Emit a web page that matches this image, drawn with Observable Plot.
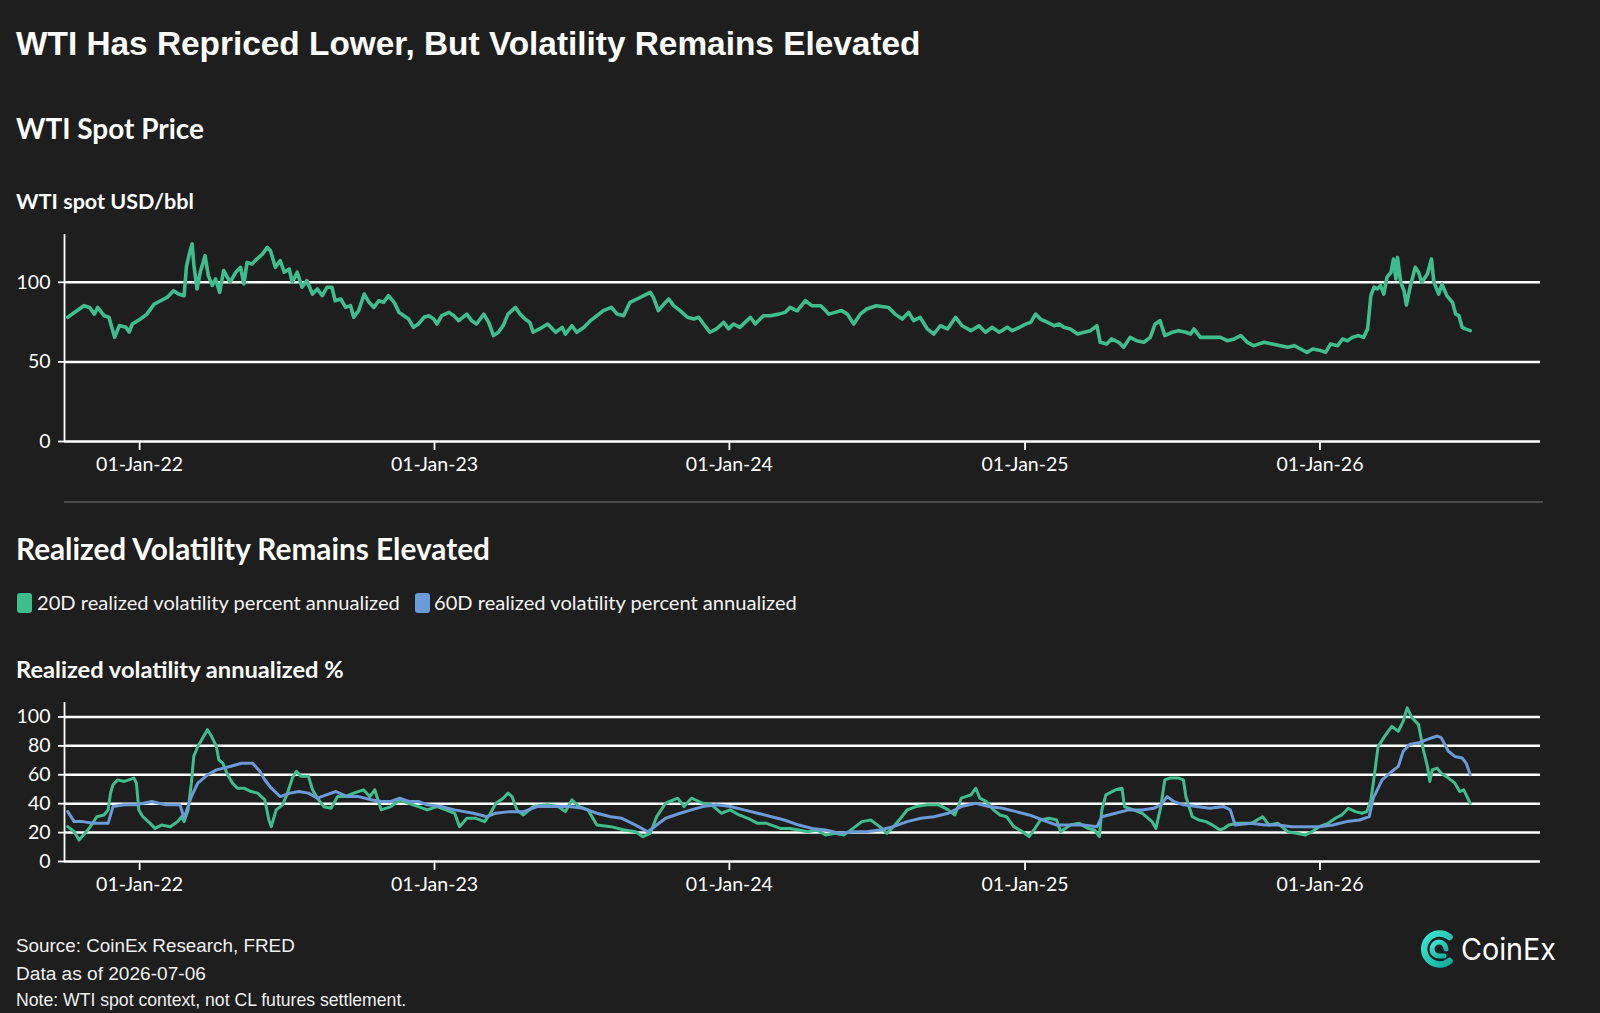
<!DOCTYPE html>
<html><head><meta charset="utf-8">
<script src="https://cdn.jsdelivr.net/npm/d3@7"></script>
<script src="https://cdn.jsdelivr.net/npm/@observablehq/plot@0.6"></script>
<style>
html,body{margin:0;padding:0;background:#1e1e1e;}
#page{position:relative;width:1600px;height:1013px;background:#1e1e1e;overflow:hidden;color:#fff;}
.t{position:absolute;white-space:nowrap;line-height:1;margin:0;}
.h{font-family:Lato,sans-serif;font-weight:700;color:#fff;}
.r{font-family:Lato,sans-serif;font-weight:400;color:#f2f2f2;}
.a{font-family:"Liberation Sans",Arial,sans-serif;color:#f0f0f0;}
.sw{position:absolute;width:15px;height:20px;border-radius:3px;}
.chart{position:absolute;left:0;}
</style></head>
<body><div id="page">
<div id="title" class="t a" style="font-weight:700;color:#fff">WTI Has Repriced Lower, But Volatility Remains Elevated</div>
<div id="h1" class="t h">WTI Spot Price</div>
<div id="yl1" class="t h">WTI spot USD/bbl</div>
<div id="c1" class="chart" style="top:230px"></div>
<div style="position:absolute;left:64px;top:501px;width:1479px;height:1.5px;background:#4a4a4a"></div>
<div id="h2" class="t h">Realized Volatility Remains Elevated</div>
<div id="sw1" class="sw" style="left:17px;top:593px"></div>
<div id="lg1" class="t r">20D realized volatility percent annualized</div>
<div id="sw2" class="sw" style="left:414.5px;top:593px"></div>
<div id="lg2" class="t r">60D realized volatility percent annualized</div>
<div id="yl2" class="t h">Realized volatility annualized %</div>
<div id="c2" class="chart" style="top:698px"></div>
<div id="f1" class="t a">Source: CoinEx Research, FRED</div>
<div id="f2" class="t a">Data as of 2026-07-06</div>
<div id="f3" class="t a">Note: WTI spot context, not CL futures settlement.</div>
<svg style="position:absolute;left:1421px;top:929px" width="140" height="42" viewBox="0 0 140 42">
  <defs><linearGradient id="lgc" x1="0" y1="0" x2="1" y2="1"><stop offset="0" stop-color="#3fe6d4"/><stop offset="1" stop-color="#10ae9f"/></linearGradient></defs>
  <path d="M28.5 8 A15.5 15.5 0 1 0 28.5 32" fill="none" stroke="url(#lgc)" stroke-width="6.5" stroke-linecap="round"/>
  <path d="M25 20 A7 7 0 1 0 19 27 L23 27" fill="none" stroke="url(#lgc)" stroke-width="5" stroke-linecap="round"/>
  <text x="40" y="31" fill="#fff" font-family="Inter, Roboto, sans-serif" font-weight="400" font-size="30" textLength="95" lengthAdjust="spacingAndGlyphs">CoinEx</text>
</svg>
</div>
<script>
const GREEN = "#3ebe8c", BLUE = "#6a9ad8";

const yearTicks = ["2022-01-01","2023-01-01","2024-01-01","2025-01-01","2026-01-01"];
const priceTicks = [0, 50, 100];
const volTicks = [0, 20, 40, 60, 80, 100];

const priceDates = [
"2021-10-04","2021-10-24","2021-10-31","2021-11-06","2021-11-10","2021-11-18","2021-11-24","2021-12-01","2021-12-07","2021-12-15","2021-12-19","2021-12-23",
"2022-01-02","2022-01-10","2022-01-19","2022-01-27","2022-02-04","2022-02-12","2022-02-18","2022-02-25","2022-02-28","2022-03-04","2022-03-07","2022-03-09",
"2022-03-13","2022-03-17","2022-03-23","2022-03-27","2022-04-01","2022-04-05","2022-04-10","2022-04-15","2022-04-23","2022-04-30","2022-05-06","2022-05-10",
"2022-05-14","2022-05-20","2022-05-26","2022-06-02","2022-06-08","2022-06-12","2022-06-18","2022-06-24","2022-06-29","2022-07-05","2022-07-09","2022-07-15",
"2022-07-21","2022-07-27","2022-08-03","2022-08-09","2022-08-15","2022-08-21","2022-08-27","2022-08-31","2022-09-07","2022-09-13","2022-09-19","2022-09-23",
"2022-09-29","2022-10-06","2022-10-12","2022-10-18","2022-10-24","2022-10-30","2022-11-05","2022-11-12","2022-11-18","2022-11-24","2022-11-30","2022-12-06",
"2022-12-12","2022-12-19","2022-12-25","2022-12-31","2023-01-04","2023-01-10","2023-01-19","2023-01-25","2023-01-31","2023-02-10","2023-02-16","2023-02-22",
"2023-03-03","2023-03-09","2023-03-15","2023-03-21","2023-03-27","2023-04-02","2023-04-11","2023-04-17","2023-04-23","2023-04-29","2023-05-03","2023-05-11",
"2023-05-21","2023-05-31","2023-06-08","2023-06-12","2023-06-20","2023-06-26","2023-07-05","2023-07-13","2023-07-21","2023-07-29","2023-08-08","2023-08-15",
"2023-08-23","2023-08-31","2023-09-09","2023-09-17","2023-09-25","2023-09-29","2023-10-05","2023-10-12","2023-10-18","2023-10-24","2023-11-01","2023-11-10",
"2023-11-18","2023-11-24","2023-11-30","2023-12-08","2023-12-16","2023-12-25","2023-12-31","2024-01-06","2024-01-14","2024-01-27","2024-02-02","2024-02-12",
"2024-02-21","2024-03-02","2024-03-10","2024-03-16","2024-03-25","2024-04-04","2024-04-12","2024-04-23","2024-04-29","2024-05-03","2024-05-11","2024-05-19",
"2024-05-26","2024-06-03","2024-06-11","2024-06-19","2024-07-01","2024-07-16","2024-07-24","2024-08-02","2024-08-10","2024-08-16","2024-08-24","2024-09-02",
"2024-09-10","2024-09-18","2024-09-27","2024-10-07","2024-10-15","2024-10-26","2024-11-05","2024-11-13","2024-11-21","2024-11-30",
"2024-12-10","2024-12-16","2024-12-25","2025-01-02","2025-01-08","2025-01-14","2025-01-20","2025-01-29","2025-02-06","2025-02-12","2025-02-18","2025-02-26",
"2025-03-07","2025-03-15","2025-03-23","2025-03-31","2025-04-04","2025-04-12","2025-04-18","2025-04-27","2025-05-03","2025-05-11","2025-05-19","2025-05-28",
"2025-06-05","2025-06-11","2025-06-17","2025-06-23","2025-07-02","2025-07-10","2025-07-19","2025-07-25","2025-07-29","2025-08-06","2025-08-19","2025-08-31",
"2025-09-08","2025-09-17","2025-09-25","2025-10-03","2025-10-11","2025-10-24","2025-11-03","2025-11-13","2025-11-22","2025-11-30","2025-12-08","2025-12-16",
"2025-12-23","2026-01-02","2026-01-08","2026-01-14","2026-01-23","2026-01-29","2026-02-04","2026-02-10","2026-02-18","2026-02-24","2026-03-01","2026-03-05",
"2026-03-09","2026-03-13","2026-03-17","2026-03-21","2026-03-25","2026-03-30","2026-04-02","2026-04-05","2026-04-07","2026-04-11","2026-04-15","2026-04-18",
"2026-04-23","2026-04-29","2026-05-03","2026-05-07","2026-05-14","2026-05-19","2026-05-22","2026-05-28","2026-06-01","2026-06-07","2026-06-14","2026-06-18",
"2026-06-22","2026-06-26","2026-06-30","2026-07-06"];
const priceValues = [
78.0,85.3,84.2,80.0,84.2,79.0,78.0,65.4,72.8,71.8,68.8,73.8,
76.9,80.0,86.3,88.4,90.5,94.7,92.6,91.6,110.0,118.8,124.0,111.4,
95.8,106.3,116.7,104.2,98.0,102.1,93.7,107.4,100.0,106.3,109.4,98.9,
112.5,111.5,114.6,117.7,121.9,119.8,109.4,113.6,106.3,108.4,100.0,106.3,
96.9,101.0,92.6,95.8,91.6,96.9,96.9,88.4,89.5,84.2,85.3,78.0,
82.1,92.6,87.4,84.2,88.4,87.4,91.6,87.4,81.1,79.0,76.9,71.7,
73.8,78.0,79.0,76.9,73.8,79.0,81.1,79.0,75.9,80.0,75.9,73.8,
80.0,74.8,66.5,68.6,72.8,80.0,84.2,80.0,76.9,74.8,68.6,70.7,
73.8,68.6,71.7,67.5,72.7,68.6,71.7,75.9,79.0,82.2,84.2,80.0,
79.0,87.4,89.5,91.6,93.7,90.5,82.2,86.3,89.5,85.3,82.2,78.0,
76.9,78.0,73.8,68.6,70.7,74.8,70.7,73.8,71.7,78.0,73.8,79.0,
79.0,80.0,81.1,84.2,82.1,88.4,85.3,85.3,82.2,80.0,81.1,82.2,
80.0,73.8,80.0,83.2,85.3,84.2,80.0,76.9,81.1,75.9,78.0,70.7,
67.5,72.7,70.7,78.0,72.7,69.6,72.7,68.6,71.7,68.6,
71.7,69.6,71.7,73.8,74.8,80.0,76.9,74.8,72.7,73.8,71.7,70.7,
67.5,68.6,69.6,72.7,62.3,61.2,64.4,62.3,59.2,65.4,63.3,62.3,
65.4,73.8,75.9,66.5,68.6,69.6,68.6,67.5,70.7,65.4,65.4,65.4,
63.3,64.4,66.5,62.3,60.2,62.3,61.2,60.2,59.2,60.2,58.1,56.0,
58.1,57.1,56.0,61.2,60.2,64.4,63.3,65.4,66.5,65.4,70.7,91.6,
96.9,95.8,97.9,92.6,103.2,106.3,114.6,102.1,115.6,100.0,94.7,85.7,
97.9,109.4,106.3,100.0,105.2,114.6,100.0,92.6,98.9,91.6,87.4,80.0,
79.0,71.7,70.7,69.6];

const vol20Dates = [
"2021-10-04","2021-10-12","2021-10-18","2021-10-27","2021-11-01","2021-11-09","2021-11-18","2021-11-23","2021-11-26","2021-11-29","2021-12-05","2021-12-13",
"2021-12-25","2021-12-28","2021-12-31","2022-01-05","2022-01-14","2022-01-20","2022-01-28","2022-02-08","2022-02-17","2022-02-22","2022-02-25","2022-03-02",
"2022-03-06","2022-03-09","2022-03-14","2022-03-20","2022-03-26","2022-03-31","2022-04-06","2022-04-09","2022-04-14","2022-04-20","2022-04-26","2022-05-02",
"2022-05-10","2022-05-19","2022-05-27","2022-06-05","2022-06-10","2022-06-13","2022-06-19","2022-06-27","2022-07-03","2022-07-09","2022-07-14","2022-07-20",
"2022-07-29","2022-08-03","2022-08-09","2022-08-17","2022-08-26","2022-09-03","2022-09-12","2022-09-23","2022-10-05","2022-10-13","2022-10-19","2022-10-27",
"2022-11-08","2022-11-19","2022-11-30","2022-12-12","2022-12-23","2023-01-04","2023-01-15","2023-01-26","2023-02-01","2023-02-10","2023-02-21","2023-03-04",
"2023-03-10","2023-03-18","2023-03-27","2023-04-02","2023-04-07","2023-04-13","2023-04-21","2023-05-03","2023-05-20","2023-06-03","2023-06-12","2023-06-20",
"2023-06-29","2023-07-10","2023-07-21","2023-08-07","2023-08-24","2023-09-07","2023-09-16","2023-09-25","2023-10-03","2023-10-14","2023-10-29","2023-11-06",
"2023-11-15","2023-11-29","2023-12-10","2023-12-22","2024-01-02","2024-01-13","2024-01-24","2024-02-05","2024-02-16","2024-03-04","2024-03-16","2024-03-27",
"2024-04-07","2024-04-18","2024-04-29","2024-05-11","2024-05-22","2024-06-02","2024-06-13","2024-06-24","2024-07-05","2024-07-14","2024-07-22","2024-07-31",
"2024-08-08","2024-08-19","2024-09-02","2024-09-16","2024-09-28","2024-10-06","2024-10-14","2024-10-26","2024-11-01","2024-11-06","2024-11-14","2024-11-23",
"2024-12-01","2024-12-09","2024-12-18","2024-12-29","2025-01-06","2025-01-12","2025-01-20","2025-01-31","2025-02-09","2025-02-14","2025-02-26","2025-03-09",
"2025-03-20","2025-03-28","2025-04-03","2025-04-06","2025-04-11","2025-04-23","2025-05-01","2025-05-04","2025-05-15","2025-05-26","2025-06-07","2025-06-12",
"2025-06-18","2025-06-23","2025-06-29","2025-07-10","2025-07-16","2025-07-19","2025-07-27","2025-08-04","2025-08-13","2025-08-21","2025-08-30","2025-09-04",
"2025-09-10","2025-09-21","2025-10-08","2025-10-22","2025-10-30","2025-11-10","2025-11-22","2025-12-03","2025-12-14","2025-12-22","2025-12-31","2026-01-11",
"2026-01-20","2026-01-28","2026-02-05","2026-02-14","2026-02-22","2026-02-28","2026-03-05","2026-03-08","2026-03-14","2026-03-22","2026-03-31","2026-04-08",
"2026-04-14","2026-04-19","2026-04-25","2026-05-03","2026-05-09","2026-05-14","2026-05-17","2026-05-20","2026-05-26","2026-05-31","2026-06-09","2026-06-17",
"2026-06-23","2026-06-28","2026-07-06"];
const vol20Values = [
24.1,20.6,14.8,20.6,24.1,31.0,32.2,35.7,47.3,53.1,56.5,55.4,
57.7,54.2,35.7,31.0,26.4,22.9,25.2,24.1,27.6,31.0,27.6,35.7,
54.2,72.7,79.6,85.4,91.2,86.6,79.6,70.4,68.0,59.9,54.2,50.7,
50.7,48.4,47.3,42.6,28.7,24.1,35.7,39.2,47.3,57.7,62.4,58.9,
58.9,49.6,43.8,37.9,36.8,44.9,44.9,47.3,49.6,44.9,49.6,35.7,
38.0,42.6,40.3,38.0,35.7,38.0,35.7,33.4,24.1,29.9,29.9,27.6,
32.2,40.3,43.8,47.3,44.9,35.7,32.2,38.0,39.2,38.0,34.5,42.6,
38.0,35.7,25.2,24.1,21.8,20.6,17.2,19.5,31.0,40.3,43.8,38.0,
43.8,40.3,39.2,33.4,35.7,32.2,29.9,26.4,26.4,22.9,22.9,21.8,
20.6,21.8,18.4,19.5,18.4,22.9,27.6,28.7,24.1,19.5,24.1,29.9,
35.7,38.0,39.2,39.2,35.7,32.2,43.8,46.1,50.7,43.8,41.5,35.7,
32.2,31.0,24.1,20.6,17.2,21.8,28.7,29.9,28.7,20.6,25.2,26.4,
22.9,21.8,17.2,35.7,46.1,49.6,50.7,38.0,35.7,33.4,27.6,22.9,
38.0,56.5,57.7,57.7,56.5,45.0,31.0,28.7,27.6,25.2,21.8,22.9,
25.2,26.4,26.4,31.0,25.2,26.4,20.6,19.5,18.4,20.6,24.1,26.4,
29.9,32.2,36.8,34.5,33.4,34.5,42.6,54.2,79.6,86.6,93.5,90.1,
97.0,106.3,99.4,94.7,77.3,65.8,55.4,63.4,64.6,61.1,57.7,54.2,
48.4,49.6,40.3];

const vol60Dates = [
"2021-10-04","2021-10-12","2021-10-23","2021-11-04","2021-11-15","2021-11-23","2021-11-29","2021-12-13","2021-12-28","2022-01-16","2022-02-02","2022-02-20",
"2022-02-25","2022-03-06","2022-03-14","2022-03-26","2022-04-06","2022-04-23","2022-05-07","2022-05-21","2022-05-30","2022-06-05","2022-06-13","2022-06-24",
"2022-07-06","2022-07-17","2022-07-29","2022-08-09","2022-08-20","2022-09-01","2022-09-15","2022-09-29","2022-10-16","2022-10-27","2022-11-08","2022-11-19",
"2022-11-30","2022-12-12","2022-12-23","2023-01-09","2023-01-26","2023-02-18","2023-03-07","2023-03-18","2023-04-04","2023-04-21","2023-05-08","2023-05-31",
"2023-06-17","2023-07-04","2023-07-21","2023-08-07","2023-08-21","2023-09-07","2023-09-22","2023-10-03","2023-10-14","2023-11-01","2023-11-15","2023-11-29",
"2023-12-16","2024-01-02","2024-01-19","2024-02-05","2024-02-22","2024-03-09","2024-03-27","2024-04-12","2024-04-29","2024-05-16","2024-06-02","2024-06-19",
"2024-07-05","2024-07-22","2024-08-08","2024-08-25","2024-09-10","2024-09-28","2024-10-14","2024-11-01","2024-11-17","2024-12-04","2024-12-21","2025-01-06",
"2025-01-23","2025-02-09","2025-02-26","2025-03-14","2025-03-31","2025-04-06","2025-04-23","2025-05-09","2025-05-26","2025-06-09","2025-06-18","2025-06-26",
"2025-07-04","2025-07-16","2025-08-01","2025-08-18","2025-09-04","2025-09-12","2025-09-18","2025-10-08","2025-10-25","2025-11-10","2025-11-27","2025-12-14",
"2025-12-31","2026-01-17","2026-02-03","2026-02-19","2026-03-03","2026-03-08","2026-03-19","2026-03-31","2026-04-08","2026-04-14","2026-04-22","2026-05-03",
"2026-05-14","2026-05-26","2026-05-31","2026-06-09","2026-06-17","2026-06-26","2026-07-01","2026-07-06"];
const vol60Values = [
34.5,27.6,27.6,26.4,26.4,26.4,38.0,39.2,39.2,41.5,39.2,39.2,
29.9,44.9,54.2,59.9,63.4,65.7,68.0,68.0,62.2,56.4,50.7,44.9,
47.3,48.4,47.3,43.8,46.1,48.4,44.9,44.9,42.6,41.5,41.5,43.8,
41.5,41.5,39.2,38.0,35.7,33.4,31.0,33.4,34.5,34.5,38.0,38.0,
38.0,36.8,33.4,31.0,29.9,25.2,20.6,25.2,29.9,33.4,35.7,38.0,
39.2,38.0,35.7,33.4,31.0,28.7,25.2,22.9,21.8,19.5,20.6,20.6,
21.8,24.1,27.6,29.9,31.0,33.4,38.0,40.3,38.0,36.8,34.5,32.2,
28.7,25.2,25.2,25.2,24.1,31.0,33.4,35.7,35.7,36.8,39.2,44.9,
41.5,39.2,38.0,36.8,38.0,35.7,25.2,26.4,25.2,25.2,24.1,24.1,
24.1,25.2,27.6,28.7,31.0,43.8,56.5,62.3,65.8,76.3,81.0,82.1,
84.5,86.8,85.7,76.3,72.7,71.6,68.1,60.0];

const parse = d3.utcParse("%Y-%m-%d");
const xDomain = [parse("2021-09-30"), parse("2026-10-01")];
const xTicks = yearTicks.map(parse);
const fmt = d3.utcFormat("%d-%b-%y");

const price = priceDates.map((d, i) => ({date: parse(d), value: priceValues[i]}));
const v20 = vol20Dates.map((d, i) => ({date: parse(d), value: vol20Values[i]}));
const v60 = vol60Dates.map((d, i) => ({date: parse(d), value: vol60Values[i]}));

const common = {
  width: 1600, marginLeft: 64, marginRight: 60, marginTop: 4, marginBottom: 40,
  style: {background: "transparent", color: "#fff", fontFamily: "Lato, sans-serif", fontSize: "19.5px", overflow: "visible"},
  x: {type: "utc", domain: xDomain}
};
function axes(yTicks) {
  return [
    Plot.ruleY(yTicks, {stroke: "#fff", strokeWidth: 2.5}),
    Plot.ruleX([xDomain[0]], {stroke: "#fff", strokeWidth: 1.8}),
    Plot.axisY({ticks: yTicks, tickSize: 6, tickPadding: 8, label: null, stroke: "#fff", strokeWidth: 1.8}),
    Plot.axisX({ticks: xTicks, tickFormat: fmt, tickSize: 9, tickPadding: 7, label: null, stroke: "#fff", strokeWidth: 1.8})
  ];
}

const chart1 = Plot.plot({
  ...common, height: 251,
  y: {domain: [0, 130]},
  marks: [
    ...axes(priceTicks),
    Plot.lineY(price, {x: "date", y: "value", stroke: GREEN, strokeWidth: 3.6, strokeLinejoin: "round"})
  ]
});
document.getElementById("c1").append(chart1);

const chart2 = Plot.plot({
  ...common, height: 203,
  y: {domain: [0, 110]},
  marks: [
    ...axes(volTicks),
    Plot.lineY(v20, {x: "date", y: "value", stroke: GREEN, strokeWidth: 3, strokeLinejoin: "round"}),
    Plot.lineY(v60, {x: "date", y: "value", stroke: BLUE, strokeWidth: 3, strokeLinejoin: "round"})
  ]
});
document.getElementById("c2").append(chart2);

document.getElementById("sw1").style.background = GREEN;
document.getElementById("sw2").style.background = BLUE;

const ctx = document.createElement("canvas").getContext("2d");
function place(id, left, baseline, width) {
  const el = document.getElementById(id);
  const cs = getComputedStyle(el);
  ctx.font = `${cs.fontWeight} 20px ${cs.fontFamily}`;
  const size = 20 * width / ctx.measureText(el.textContent).width;
  ctx.font = `${cs.fontWeight} ${size}px ${cs.fontFamily}`;
  const m = ctx.measureText(el.textContent);
  const A = m.fontBoundingBoxAscent, D = m.fontBoundingBoxDescent;
  el.style.fontSize = size + "px";
  el.style.left = left + "px";
  el.style.top = (baseline - ((size - (A + D)) / 2 + A)) + "px";
}
place("title", 16, 55.5, 905);
place("h1", 16, 139.5, 188);
place("yl1", 16, 209.5, 178);
place("h2", 16, 560.5, 476);
place("lg1", 37, 610, 364);
place("lg2", 434, 610, 364);
place("yl2", 16, 679, 329);
place("f1", 16, 952.5, 279);
place("f2", 16, 980, 190);
place("f3", 16, 1006.5, 391);
</script>
</body></html>
